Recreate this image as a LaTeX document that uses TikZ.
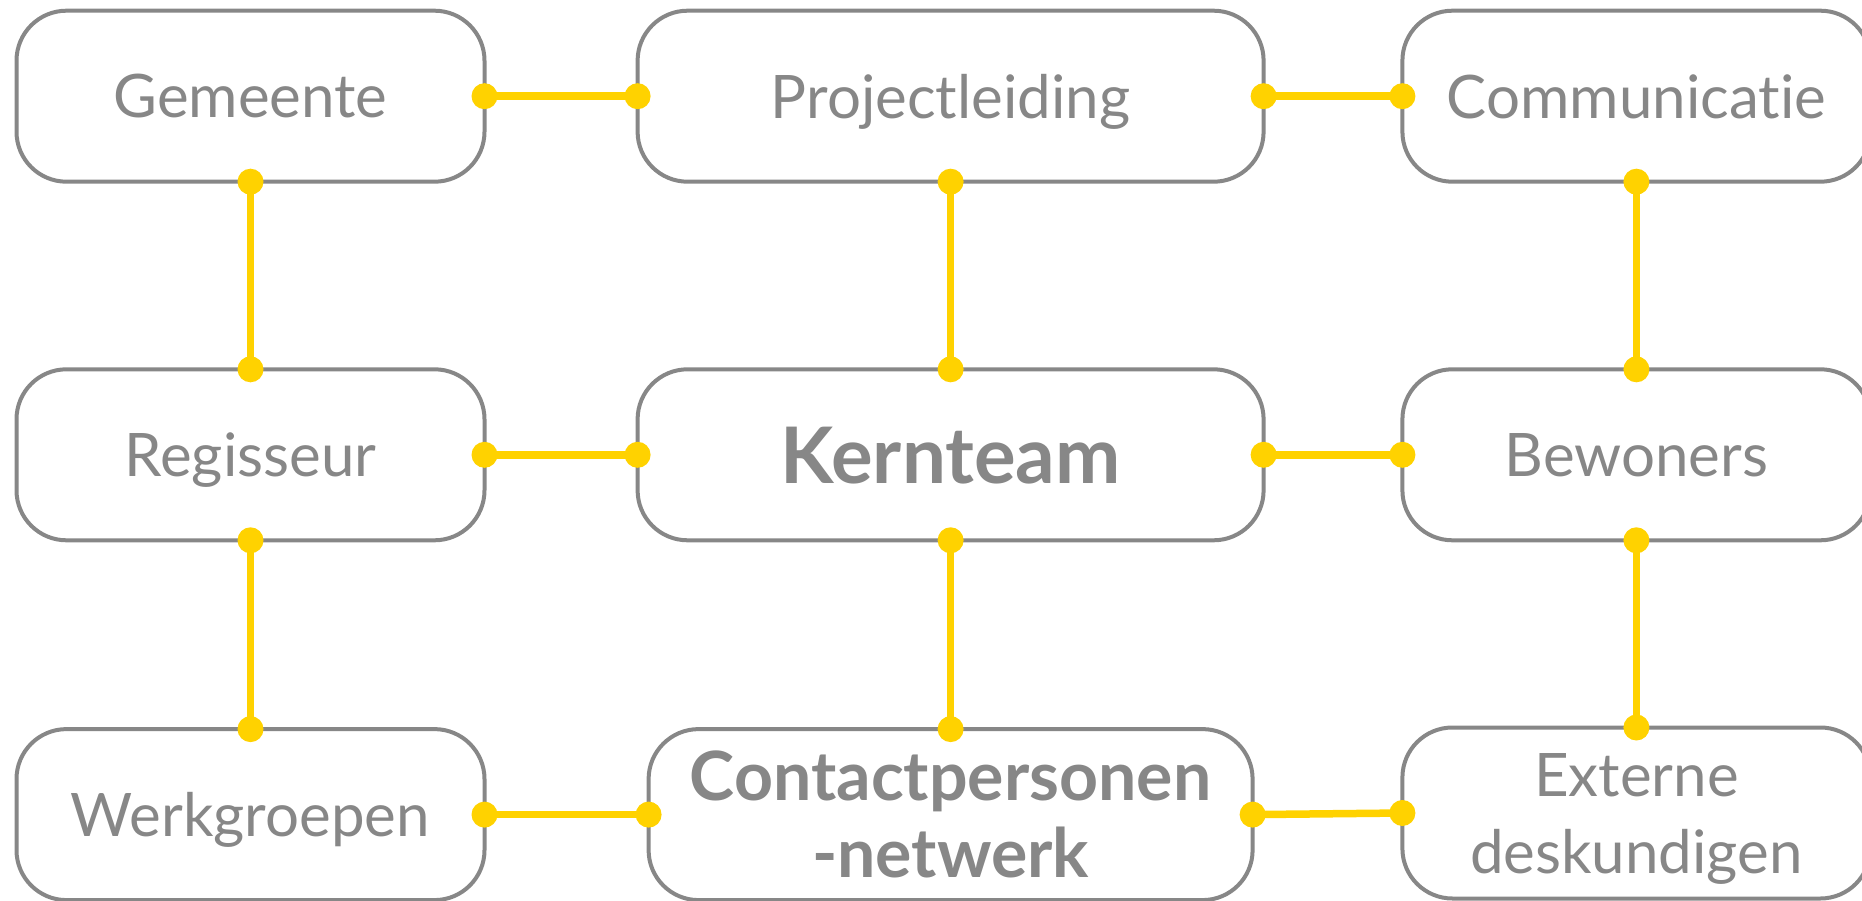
\documentclass[tikz,border=0pt]{standalone}
\usepackage{fontspec}
\setmainfont{Lato}[Ligatures={NoCommon,NoContextual}]
\definecolor{boxgray}{HTML}{878787}
\definecolor{linkyellow}{HTML}{FFD200}
\begin{document}
\begin{tikzpicture}[x=1pt,y=-1pt,
  box/.style={draw=boxgray, line width=4pt, rounded corners=50pt, fill=white,
    minimum width=468pt, minimum height=171pt, inner sep=0pt, outer sep=0pt,
    text=boxgray, font=\fontsize{60}{77}\selectfont, align=center, text depth=0pt},
  kernbox/.style={box, font=\fontsize{78}{77}\selectfont\bfseries},
  contbox/.style={box, font=\fontsize{68}{77}\selectfont\bfseries},
  link/.style={draw=linkyellow, line width=7.5pt},
  dot/.style={fill=linkyellow}]
\useasboundingbox (0,0) rectangle (1862,901);
\clip (0,0) rectangle (1862,901);
\node[box] (gem) at (250.5,96.2) {Gemeente};
\node[box, minimum width=626pt] (proj) at (950.6,96.2) {Projectleiding};
\node[box] (comm) at (1636.4,96.2) {Communicatie};
\node[box] (reg) at (250.5,454.8) {Regisseur};
\node[kernbox, minimum width=626pt] (kern) at (950.6,454.8) {Kernteam};
\node[box] (bew) at (1636.4,454.8) {Bewoners};
\node[box] (werk) at (250.5,814.6) {Werkgroepen};
\node[contbox, minimum width=604pt] (cont) at (950.6,814.6) {Contactpersonen\\-netwerk};
\node[box] (ext) at (1636.4,813) {Externe\\deskundigen};
\foreach \a/\b in {gem.east/proj.west, proj.east/comm.west,
  reg.east/kern.west, kern.east/bew.west,
  werk.east/cont.west, cont.east/ext.west,
  gem.south/reg.north, reg.south/werk.north,
  proj.south/kern.north, kern.south/cont.north,
  comm.south/bew.north, bew.south/ext.north}{
  \draw[link] (\a) -- (\b);
  \fill[dot] (\a) circle (13pt);
  \fill[dot] (\b) circle (13pt);
}
\end{tikzpicture}
\end{document}
